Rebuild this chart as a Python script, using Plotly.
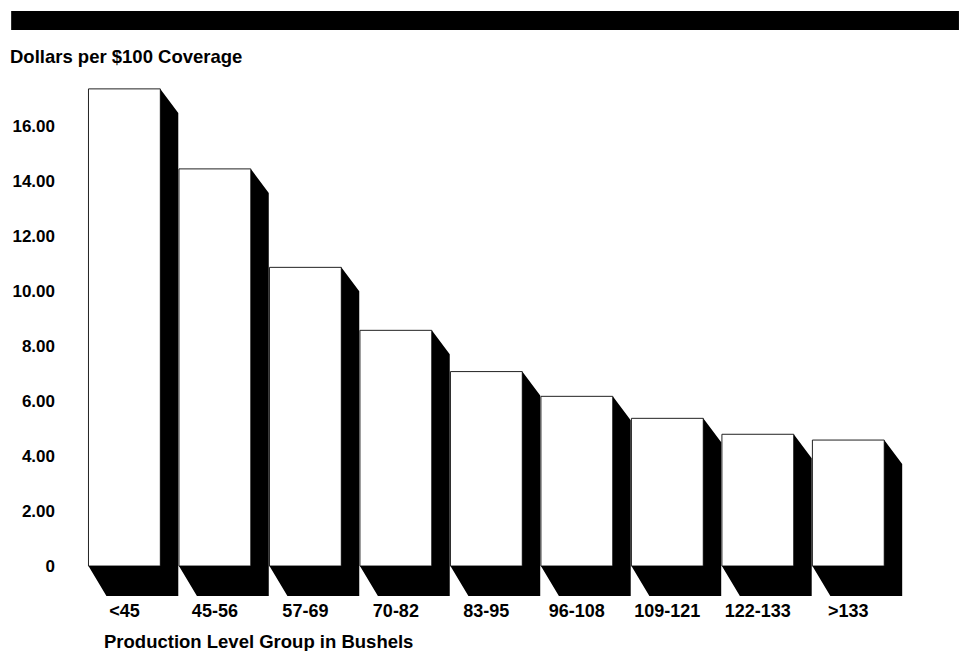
import plotly.graph_objects as go

categories = ["<45", "45-56", "57-69", "70-82", "83-95", "96-108", "109-121", "122-133", ">133"]
values = [17.35, 14.44, 10.86, 8.57, 7.07, 6.17, 5.37, 4.79, 4.58]
y_tickvals = [0, 2, 4, 6, 8, 10, 12, 14, 16]
y_ticktext = ["0", "2.00", "4.00", "6.00", "8.00", "10.00", "12.00", "14.00", "16.00"]

FONT = "Liberation Sans, Arial, sans-serif"

# plot geometry (pixels)
L, R, T, B = 80, 20, 40, 53
W, H = 959, 651
px_per_x = 90.7
px_per_y = 27.5
first_center_px = 122.5
bar_w = 72 / px_per_x
hw = bar_w / 2
dx = 18 / px_per_x
dyt = 24 / px_per_y
dyb = 30 / px_per_y

xs = list(range(len(categories)))

fig = go.Figure()

for c, v in zip(xs, values):
    px = [c - hw, c - hw + dx, c + hw + dx, c + hw + dx, c + hw, c + hw, c - hw]
    py = [0, -dyb, -dyb, v - dyt, v, 0, 0]
    fig.add_trace(go.Scatter(x=px, y=py, mode="lines", fill="toself",
                             fillcolor="black", line=dict(color="black", width=0),
                             hoverinfo="skip", showlegend=False))

fig.add_trace(go.Bar(x=xs, y=values, width=bar_w,
                     marker=dict(color="white", line=dict(color="#222222", width=1)),
                     showlegend=False))

plot_w = W - L - R
plot_h = H - T - B
x0 = (L - first_center_px) / px_per_x
x1 = x0 + plot_w / px_per_x
y_zero_px = 566
y1 = (y_zero_px - T) / px_per_y
y0 = y1 - plot_h / px_per_y

fig.update_layout(
    width=W, height=H,
    margin=dict(l=L, r=R, t=T, b=B, pad=0),
    paper_bgcolor="white", plot_bgcolor="white",
    font=dict(family=FONT, size=17, color="black", weight="bold"),
    title=dict(text="Dollars per $100 Coverage", x=10 / W, xanchor="left", xref="container",
               y=1 - 57 / H, yanchor="middle", yref="container",
               font=dict(family=FONT, size=18.5, color="black", weight="bold")),
    xaxis=dict(range=[x0, x1], tickvals=xs, ticktext=categories, showgrid=False,
               zeroline=False, showline=False, ticks="", ticklabelstandoff=0,
               tickfont=dict(family=FONT, size=18, color="black", weight="bold"),
               fixedrange=True),
    yaxis=dict(range=[y0, y1], tickvals=y_tickvals, ticktext=y_ticktext, showgrid=False,
               zeroline=False, showline=False, ticks="", ticklabelstandoff=26,
               tickfont=dict(family=FONT, size=17, color="black", weight="bold"),
               fixedrange=True),
    shapes=[dict(type="rect", xref="paper", yref="paper",
                 x0=(9 - L) / plot_w, x1=(959 - L) / plot_w,
                 y0=(H - B - 30) / plot_h, y1=(H - B - 11) / plot_h,
                 fillcolor="black", line=dict(width=0), layer="above")],
    annotations=[dict(text="Production Level Group in Bushels", xref="paper", yref="paper",
                      x=(100 - L) / plot_w, xanchor="left",
                      y=(H - B - 641) / plot_h, yanchor="middle", showarrow=False,
                      font=dict(family=FONT, size=18.5, color="black", weight="bold"))],
)

fig.write_html("out.html", config={"displayModeBar": False},
               post_script="document.body.style.margin='0px';document.body.style.overflow='hidden';")
